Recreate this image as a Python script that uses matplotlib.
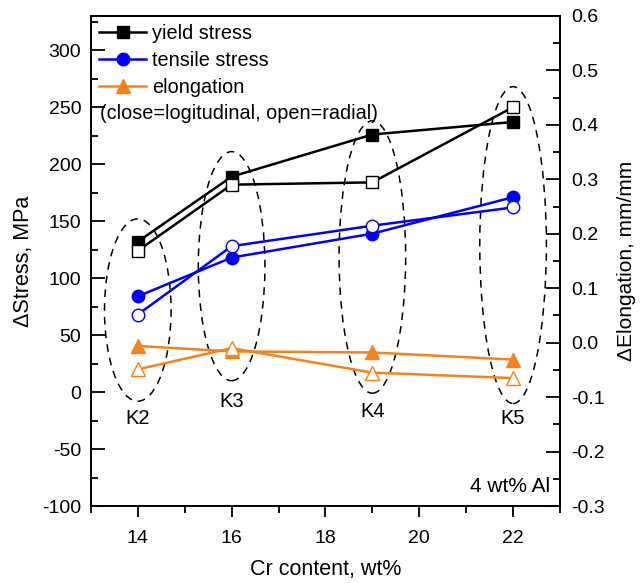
import matplotlib
matplotlib.use("Agg")
import matplotlib.pyplot as plt
from matplotlib.patches import Ellipse
from matplotlib.lines import Line2D
from matplotlib.ticker import MultipleLocator, FormatStrFormatter

plt.rcParams['font.family'] = ['Liberation Sans', 'DejaVu Sans']
plt.rcParams['axes.unicode_minus'] = False

cr = [14, 16, 19, 22]
samples = ['K2', 'K3', 'K4', 'K5']
yield_long = [132, 189, 226, 237]
yield_rad = [124, 182, 184, 250]
tensile_long = [84, 118, 139, 171]
tensile_rad = [68, 128, 146, 162]
elong_long = [-0.006, -0.016, -0.018, -0.031]
elong_rad = [-0.049, -0.010, -0.055, -0.065]

# ellipse extents (MPa) around each sample group
ell_top = [152, 211, 238, 268]
ell_bot = [-8, 10, -1, -10]
label_y = [-23, -8, -17, -23]

BLUE = '#0000ff'
ORANGE = '#f7821b'

fig = plt.figure(figsize=(6.4, 5.83), dpi=100)
ax = fig.add_axes([0.142, 0.132, 0.733, 0.8406])
ax2 = ax.twinx()

ms = 9
lw = 1.8
ax.plot(cr, yield_long, '-s', color='black', mfc='black', mec='black', ms=ms, lw=lw, zorder=3)
ax.plot(cr, yield_rad, '-s', color='black', mfc='white', mec='black', ms=ms, lw=lw, zorder=3)
ax.plot(cr, tensile_long, '-o', color=BLUE, mfc=BLUE, mec=BLUE, ms=ms, lw=lw, zorder=3)
ax.plot(cr, tensile_rad, '-o', color=BLUE, mfc='white', mec=BLUE, ms=ms, lw=lw, zorder=3)
ax2.plot(cr, elong_long, '-^', color=ORANGE, mfc=ORANGE, mec=ORANGE, ms=10.5, lw=lw, zorder=3)
ax2.plot(cr, elong_rad, '-^', color=ORANGE, mfc='white', mec=ORANGE, ms=10.5, lw=lw, zorder=3)

for x, t, b, lab, ly in zip(cr, ell_top, ell_bot, samples, label_y):
    e = Ellipse((x, (t + b) / 2), width=1.42, height=(t - b), fill=False,
                ls=(0, (5, 4)), lw=1.1, edgecolor='black', zorder=2)
    ax.add_patch(e)
    ax.text(x, ly, lab, ha='center', va='center', fontsize=14.5)

ax.set_xlim(13, 23)
ax.set_ylim(-100, 330)
ax2.set_ylim(-0.3, 0.6)

ax.xaxis.set_major_locator(MultipleLocator(2))
ax.xaxis.set_minor_locator(MultipleLocator(1))
ax.yaxis.set_major_locator(MultipleLocator(50))
ax.yaxis.set_minor_locator(MultipleLocator(25))
ax2.yaxis.set_major_locator(MultipleLocator(0.1))
ax2.yaxis.set_minor_locator(MultipleLocator(0.05))
ax2.yaxis.set_major_formatter(FormatStrFormatter('%.1f'))

ax.tick_params(axis='x', which='major', direction='out', length=8, width=1.3, labelsize=14, pad=9)
ax.tick_params(axis='x', which='minor', direction='out', length=5, width=1.3)
ax.tick_params(axis='y', which='major', direction='in', length=10, width=1.3, labelsize=14, pad=7)
ax.tick_params(axis='y', which='minor', direction='in', length=5, width=1.3)
ax2.tick_params(axis='y', which='major', direction='in', length=10, width=1.3, labelsize=14, pad=8)
ax2.tick_params(axis='y', which='minor', direction='in', length=5, width=1.3)
for a in (ax, ax2):
    for s in a.spines.values():
        s.set_linewidth(1.3)

ax.set_xlabel('Cr content, wt%', fontsize=15.5, labelpad=9)
ax.set_ylabel('\u0394Stress, MPa', fontsize=15.5, labelpad=6)
ax2.set_ylabel('\u0394Elongation, mm/mm', fontsize=15, labelpad=9)

handles = [
    Line2D([], [], color='black', marker='s', ms=ms, lw=lw),
    Line2D([], [], color=BLUE, marker='o', ms=ms, lw=lw),
    Line2D([], [], color=ORANGE, marker='^', ms=10.5, lw=lw),
]
leg = ax2.legend(handles, ['yield stress', 'tensile stress', 'elongation'],
                 loc='upper left', bbox_to_anchor=(0.0, 1.0), frameon=False,
                 fontsize=14.3, handlelength=2.4, handletextpad=0.3,
                 labelspacing=0.4, borderaxespad=0.2, borderpad=0.2)
ax2.text(0.019, 0.80, '(close=logitudinal, open=radial)', transform=ax2.transAxes,
         fontsize=14.3, ha='left', va='center')
ax2.text(0.98, 0.04, '4 wt% Al', transform=ax2.transAxes, fontsize=15,
         ha='right', va='center')

fig.savefig('out.png', dpi=100)
